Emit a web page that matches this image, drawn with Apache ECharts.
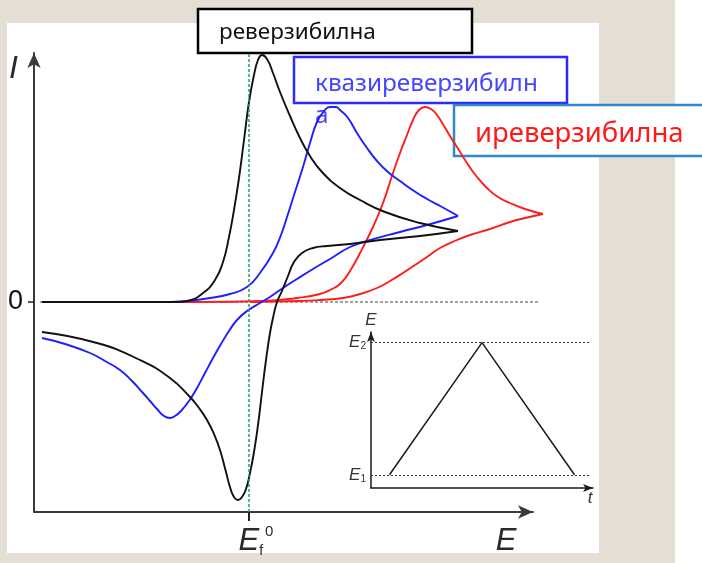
<!DOCTYPE html>
<html>
<head>
<meta charset="utf-8">
<script src="https://cdn.jsdelivr.net/npm/echarts@6/dist/echarts.min.js"></script>
<style>
  html, body { margin: 0; padding: 0; background: #e4ded4; }
  #chart { width: 702px; height: 563px; }
</style>
</head>
<body>
<div id="chart"></div>
<script>
// Cyclic voltammograms: current I against potential E (arbitrary units).
// Each scan is split into its forward (oxidation) and reverse branch.
const reversibleFwd = [[8,0],[110,0],[140,0],[153,1],[169,9],[181,22],[189,40],[195,65],[200,92],[205,124],[210,162],[215,200],[220,227],[224,242],[228,247],[233,243],[239,229],[246,210],[256,186],[266,164],[276,146],[288,130],[306,114],[326,102],[351,90],[386,79],[424,71]];
const reversibleRev = [[424,71],[386,66],[346,62],[316,58],[293,56],[279,54],[268,49],[260,40],[254,26],[248,11],[243,0],[239,-16],[236,-31],[232,-58],[228,-90],[224,-123],[220,-150],[216,-171],[212,-187],[208,-195],[204,-198],[200,-195],[196,-185],[192,-170],[186,-148],[180,-132],[173,-118],[165,-106],[156,-95],[136,-76],[106,-58],[63,-41],[8,-30]];

const quasiFwd = [[8,0],[110,0],[136,0],[176,4],[196,8],[213,15],[226,29],[239,49],[247,67],[254,88],[261,110],[269,135],[276,159],[283,180],[290,191],[296,195],[302,195],[306,192],[314,184],[323,169],[333,154],[343,141],[354,130],[366,121],[380,111],[393,103],[408,95],[424,86]];
const quasiRev = [[424,86],[393,77],[366,70],[333,61],[316,55],[296,43],[279,33],[263,23],[249,14],[236,5],[226,-1],[213,-9],[203,-18],[195,-29],[187,-42],[179,-56],[171,-71],[163,-86],[155,-99],[147,-109],[141,-114],[136,-116],[130,-114],[123,-107],[116,-99],[109,-91],[98,-79],[86,-68],[71,-59],[56,-51],[31,-42],[8,-36]];

const irreversibleFwd = [[8,0],[110,0],[166,0],[229,1],[263,4],[286,8],[298,13],[307,19],[316,31],[326,49],[339,75],[349,99],[359,129],[366,149],[373,167],[379,182],[385,192],[391,195],[397,193],[403,187],[410,176],[416,166],[423,155],[433,139],[443,125],[453,114],[464,105],[476,99],[491,93],[509,88]];
const irreversibleRev = [[509,88],[491,84],[476,80],[456,73],[436,67],[423,62],[406,54],[393,45],[381,37],[369,29],[356,21],[343,14],[326,8],[309,4],[286,2],[266,1],[216,0]];

// Zero-current baseline and formal potential of the couple
const baseline = [[6,0],[506,0]];
const formalPotential = 215;

// Inset: triangular potential sweep E(t)
const sweepTime = [1, 6, 11];
const sweepPotential = [0.1, 1.1, 0.1];
const E1 = 0.1, E2 = 1.1;

const labelFont = '"Liberation Sans", Arial, sans-serif';
const boxFont = '"Noto Sans", sans-serif';

const chart = echarts.init(document.getElementById('chart'), null, { renderer: 'canvas' });

function line(data, color, name) {
  return {
    type: 'line', name: name, data: data, xAxisIndex: 0, yAxisIndex: 0,
    smooth: 0.5, smoothConstraint: false, symbol: 'none', clip: false, z: 3,
    lineStyle: { color: color, width: 1.9 }
  };
}

const hidden = { show: false, splitLine: { show: false } };

chart.setOption({
  backgroundColor: '#e4ded4',
  animation: false,
  grid: [
    // plotting area for the curves (same scale as the drawn axes, a little wider)
    { left: 34, top: 53, width: 530, height: 459 },
    // drawn E / I axes
    { left: 34, top: 53, width: 499, height: 459 },
    // inset
    { left: 371, top: 332, width: 222, height: 156 }
  ],
  xAxis: [
    Object.assign({ type: 'value', gridIndex: 0, min: 0, max: 530 }, hidden),
    {
      type: 'value', gridIndex: 1, min: 0, max: 499,
      splitLine: { show: false },
      axisLine: { onZero: false, symbol: ['none', 'arrow'], symbolSize: [10, 15], lineStyle: { color: '#3a3a3a', width: 2 } },
      axisTick: { show: true, customValues: [formalPotential], length: 9, lineStyle: { color: '#222', width: 2 } },
      axisLabel: {
        show: true, customValues: [formalPotential], margin: 12, padding: [0, 0, 0, 14],
        formatter: () => '{e|E}{f|f}{z|0}',
        rich: {
          e: { fontFamily: labelFont, fontStyle: 'italic', fontSize: 31, lineHeight: 34, color: '#2a2a2a' },
          f: { fontFamily: labelFont, fontSize: 14, lineHeight: 14, verticalAlign: 'bottom', color: '#2a2a2a' },
          z: { fontFamily: labelFont, fontSize: 15, lineHeight: 15, verticalAlign: 'top', color: '#2a2a2a', padding: [0, 0, 0, 2] }
        }
      },
      name: 'E', nameLocation: 'end', nameGap: -27,
      nameTextStyle: { fontFamily: labelFont, fontStyle: 'italic', fontSize: 31, color: '#2a2a2a', align: 'center', verticalAlign: 'top', padding: [14, 0, 0, 0] }
    },
    {
      type: 'value', gridIndex: 2, min: 0, max: 12,
      splitLine: { show: false },
      axisLine: { onZero: false, symbol: ['none', 'arrow'], symbolSize: [6, 10], lineStyle: { color: '#1a1a1a', width: 1.5 } },
      axisTick: { show: false }, axisLabel: { show: false },
      name: 't', nameLocation: 'end', nameGap: -3,
      nameTextStyle: { fontFamily: labelFont, fontStyle: 'italic', fontSize: 17, color: '#333', align: 'center', verticalAlign: 'top', padding: [2, 0, 0, 0] }
    }
  ],
  yAxis: [
    Object.assign({ type: 'value', gridIndex: 0, min: -210, max: 249 }, hidden),
    {
      type: 'value', gridIndex: 1, min: -210, max: 249,
      splitLine: { show: false },
      axisLine: { onZero: false, symbol: ['none', 'arrow'], symbolSize: [10, 15], lineStyle: { color: '#3a3a3a', width: 2 } },
      axisTick: { show: true, customValues: [0], length: 6, lineStyle: { color: '#222', width: 1.5 } },
      axisLabel: { show: true, customValues: [0], margin: 11, formatter: v => String(v), fontFamily: labelFont, fontSize: 27, color: '#111' },
      name: 'I', nameLocation: 'end', nameGap: 0,
      nameTextStyle: { fontFamily: labelFont, fontStyle: 'italic', fontSize: 32, color: '#2a2a2a', align: 'right', verticalAlign: 'top', padding: [0, 16, 0, 0] }
    },
    {
      type: 'value', gridIndex: 2, min: 0, max: 1.18,
      splitLine: { show: false },
      axisLine: { onZero: false, symbol: ['none', 'arrow'], symbolSize: [6, 10], lineStyle: { color: '#1a1a1a', width: 1.5 } },
      axisTick: { show: false },
      axisLabel: {
        show: true, customValues: [E1, E2], margin: 5,
        formatter: v => v === E1 ? '{e|E}{s|1}' : '{e|E}{s|2}',
        rich: {
          e: { fontFamily: labelFont, fontStyle: 'italic', fontSize: 17, lineHeight: 18, color: '#333' },
          s: { fontFamily: labelFont, fontSize: 10, lineHeight: 10, verticalAlign: 'bottom', color: '#333' }
        }
      },
      name: 'E', nameLocation: 'end', nameGap: 3,
      nameTextStyle: { fontFamily: labelFont, fontStyle: 'italic', fontSize: 17, color: '#333', align: 'center', verticalAlign: 'bottom' }
    }
  ],
  series: [
    {
      type: 'line', name: 'baseline', data: baseline, xAxisIndex: 0, yAxisIndex: 0, z: 1,
      symbol: 'none', clip: false,
      lineStyle: { color: '#444', width: 1.2, type: [3, 2] },
      markLine: {
        silent: true, symbol: 'none', label: { show: false },
        lineStyle: { color: '#23a05c', width: 1.5, type: [3, 2] },
        data: [{ xAxis: formalPotential }]
      }
    },
    line(irreversibleFwd, '#ff1c1c', 'иреверзибилна'),
    line(irreversibleRev, '#ff1c1c', 'иреверзибилна'),
    line(quasiFwd, '#1e1eff', 'квазиреверзибилна'),
    line(quasiRev, '#1e1eff', 'квазиреверзибилна'),
    line(reversibleFwd, '#111111', 'реверзибилна'),
    line(reversibleRev, '#111111', 'реверзибилна'),
    {
      type: 'line', xAxisIndex: 2, yAxisIndex: 2, symbol: 'none',
      data: sweepTime.map((t, i) => [t, sweepPotential[i]]),
      lineStyle: { color: '#1a1a1a', width: 1.5 },
      markLine: {
        silent: true, symbol: 'none', label: { show: false },
        lineStyle: { color: '#333', width: 1, type: [2, 2] },
        data: [
          [{ coord: [0, E2] }, { coord: [11.85, E2] }],
          [{ coord: [0, E1] }, { coord: [11.85, E1] }]
        ]
      }
    }
  ],
  graphic: [
    { type: 'rect', z: -10, silent: true, shape: { x: 7, y: 23, width: 592, height: 530 }, style: { fill: '#ffffff' } },
    { type: 'rect', z: -10, silent: true, shape: { x: 675, y: 0, width: 27, height: 563 }, style: { fill: '#ffffff' } },
    {
      type: 'group', z: 100,
      children: [
        { type: 'rect', shape: { x: 198, y: 9, width: 274, height: 44 }, style: { fill: '#fff', stroke: '#000', lineWidth: 2.5 } },
        { type: 'text', style: { x: 219, y: 33, text: 'реверзибилна', font: '22.5px ' + boxFont, fill: '#111', textVerticalAlign: 'middle' } }
      ]
    },
    {
      type: 'group', z: 100,
      children: [
        { type: 'rect', shape: { x: 294, y: 57, width: 273, height: 46 }, style: { fill: '#fff', stroke: '#2b2bff', lineWidth: 2.5 } },
        { type: 'text', style: { x: 315, y: 68, text: 'квазиреверзибилн\nа', font: '24.3px ' + boxFont, lineHeight: 32, fill: '#4646ff', textVerticalAlign: 'top' } }
      ]
    },
    {
      type: 'group', z: 100,
      children: [
        { type: 'rect', shape: { x: 454, y: 105, width: 260, height: 51 }, style: { fill: '#fff', stroke: '#2f88c8', lineWidth: 2.5 } },
        { type: 'text', style: { x: 475, y: 134, text: 'иреверзибилна', font: '27.5px ' + boxFont, fill: '#ff1a1a', textVerticalAlign: 'middle' } }
      ]
    }
  ]
});
</script>
</body>
</html>
